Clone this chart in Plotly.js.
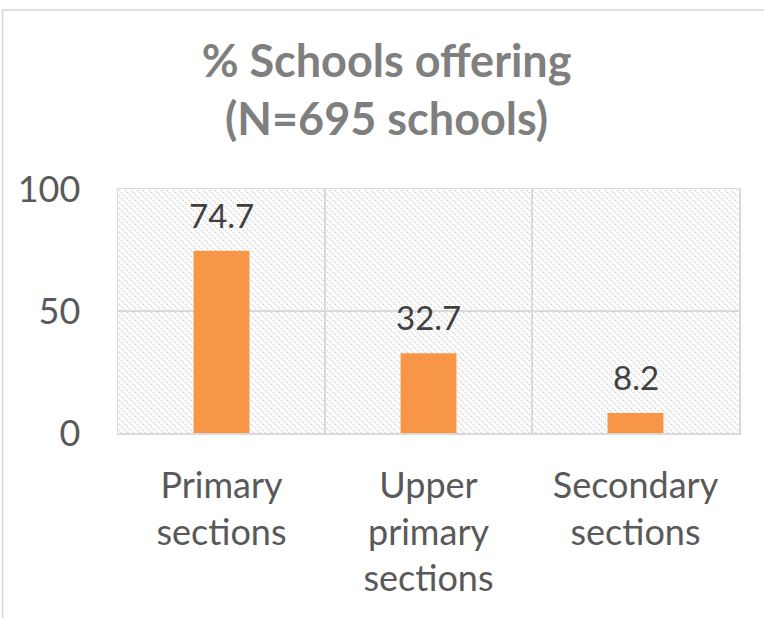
<!DOCTYPE html>
<html>
<head>
<meta charset="utf-8">
<script src="https://cdn.plot.ly/plotly-3.0.1.min.js"></script>
<style>
  html, body { margin: 0; padding: 0; background: #ffffff; }
  #chart { width: 764px; height: 618px; }
</style>
</head>
<body>
<div id="chart"></div>
<script>
// Share of schools offering each section level
var categories = ["Primary<br>sections", "Upper<br>primary<br>sections", "Secondary<br>sections"];
var percentOffering = [74.7, 32.7, 8.2];
var yTickValues = [0, 50, 100];
var yTickLabels = ["0", "50", "100"];

var FONT = "Lato, 'Open Sans', sans-serif";
var BAR_COLOR = "#f79646";
var GRID_COLOR = "#d9d9d9";

// Diagonal hatch used as the plot-area fill
function hatchImage(w, h) {
  var svg =
    '<svg xmlns="http://www.w3.org/2000/svg" width="' + w + '" height="' + h + '" viewBox="0 0 ' + w + ' ' + h + '">' +
    '<defs><pattern id="p" patternUnits="userSpaceOnUse" width="6" height="6">' +
    '<path d="M-1,-1 L7,7 M-1,5 L1,7 M5,-1 L7,1" stroke="#d0d0d0" stroke-width="1.4" stroke-dasharray="1.4 1.4"/>' +
    '</pattern></defs>' +
    '<rect width="' + w + '" height="' + h + '" fill="url(#p)"/></svg>';
  return "data:image/svg+xml;charset=utf-8," + encodeURIComponent(svg);
}

var trace = {
  type: "bar",
  x: categories,
  y: percentOffering,
  width: 0.27,
  marker: { color: BAR_COLOR },
  hoverinfo: "x+y"
};

// Value labels sit above each bar
var valueLabels = categories.map(function (c, i) {
  return {
    x: c, y: percentOffering[i], xref: "x", yref: "y",
    text: percentOffering[i].toFixed(1),
    showarrow: false, yanchor: "bottom", yshift: 14,
    font: { family: FONT, size: 33, color: "#404040" }
  };
});

var margin = { l: 118, r: 25, t: 189, b: 185 };
var plotW = 764 - margin.l - margin.r;
var plotH = 618 - margin.t - margin.b;

var layout = {
  width: 764,
  height: 618,
  margin: margin,
  paper_bgcolor: "#ffffff",
  plot_bgcolor: "rgba(0,0,0,0)",
  showlegend: false,
  title: {
    text: "<b>% Schools offering<br>(N=695 schools)</b>",
    font: { family: FONT, size: 45, color: "#7f7f7f" },
    x: 0.506, xanchor: "center",
    y: 0.876, yanchor: "top", yref: "container"
  },
  xaxis: {
    type: "category",
    tickson: "boundaries",
    showgrid: true,
    gridcolor: GRID_COLOR,
    gridwidth: 1.3,
    showline: true,
    linecolor: GRID_COLOR,
    linewidth: 1.5,
    mirror: true,
    ticks: "",
    ticklabelstandoff: 20,
    tickfont: { family: FONT, size: 36, color: "#595959" },
    fixedrange: true
  },
  yaxis: {
    range: [0, 100],
    tickvals: yTickValues,
    ticktext: yTickLabels,
    showgrid: true,
    gridcolor: GRID_COLOR,
    gridwidth: 1.3,
    showline: true,
    linecolor: GRID_COLOR,
    linewidth: 1.5,
    mirror: true,
    zeroline: false,
    ticks: "",
    ticklabelstandoff: 29,
    tickfont: { family: FONT, size: 36, color: "#595959" },
    fixedrange: true
  },
  images: [{
    source: hatchImage(plotW, plotH),
    xref: "paper", yref: "paper",
    x: 0, y: 1, sizex: 1, sizey: 1,
    xanchor: "left", yanchor: "top",
    sizing: "stretch", layer: "below"
  }],
  shapes: [{
    // chart-area frame
    type: "rect", xref: "paper", yref: "paper",
    x0: (2.5 - margin.l) / plotW, x1: 1.2,
    y0: -1.2, y1: (618 - margin.b - 10) / plotH,
    line: { color: "#d4d4d4", width: 1.5 },
    fillcolor: "rgba(0,0,0,0)"
  }],
  annotations: valueLabels
};

Plotly.newPlot("chart", [trace], layout, { displayModeBar: false, staticPlot: true });
</script>
</body>
</html>
